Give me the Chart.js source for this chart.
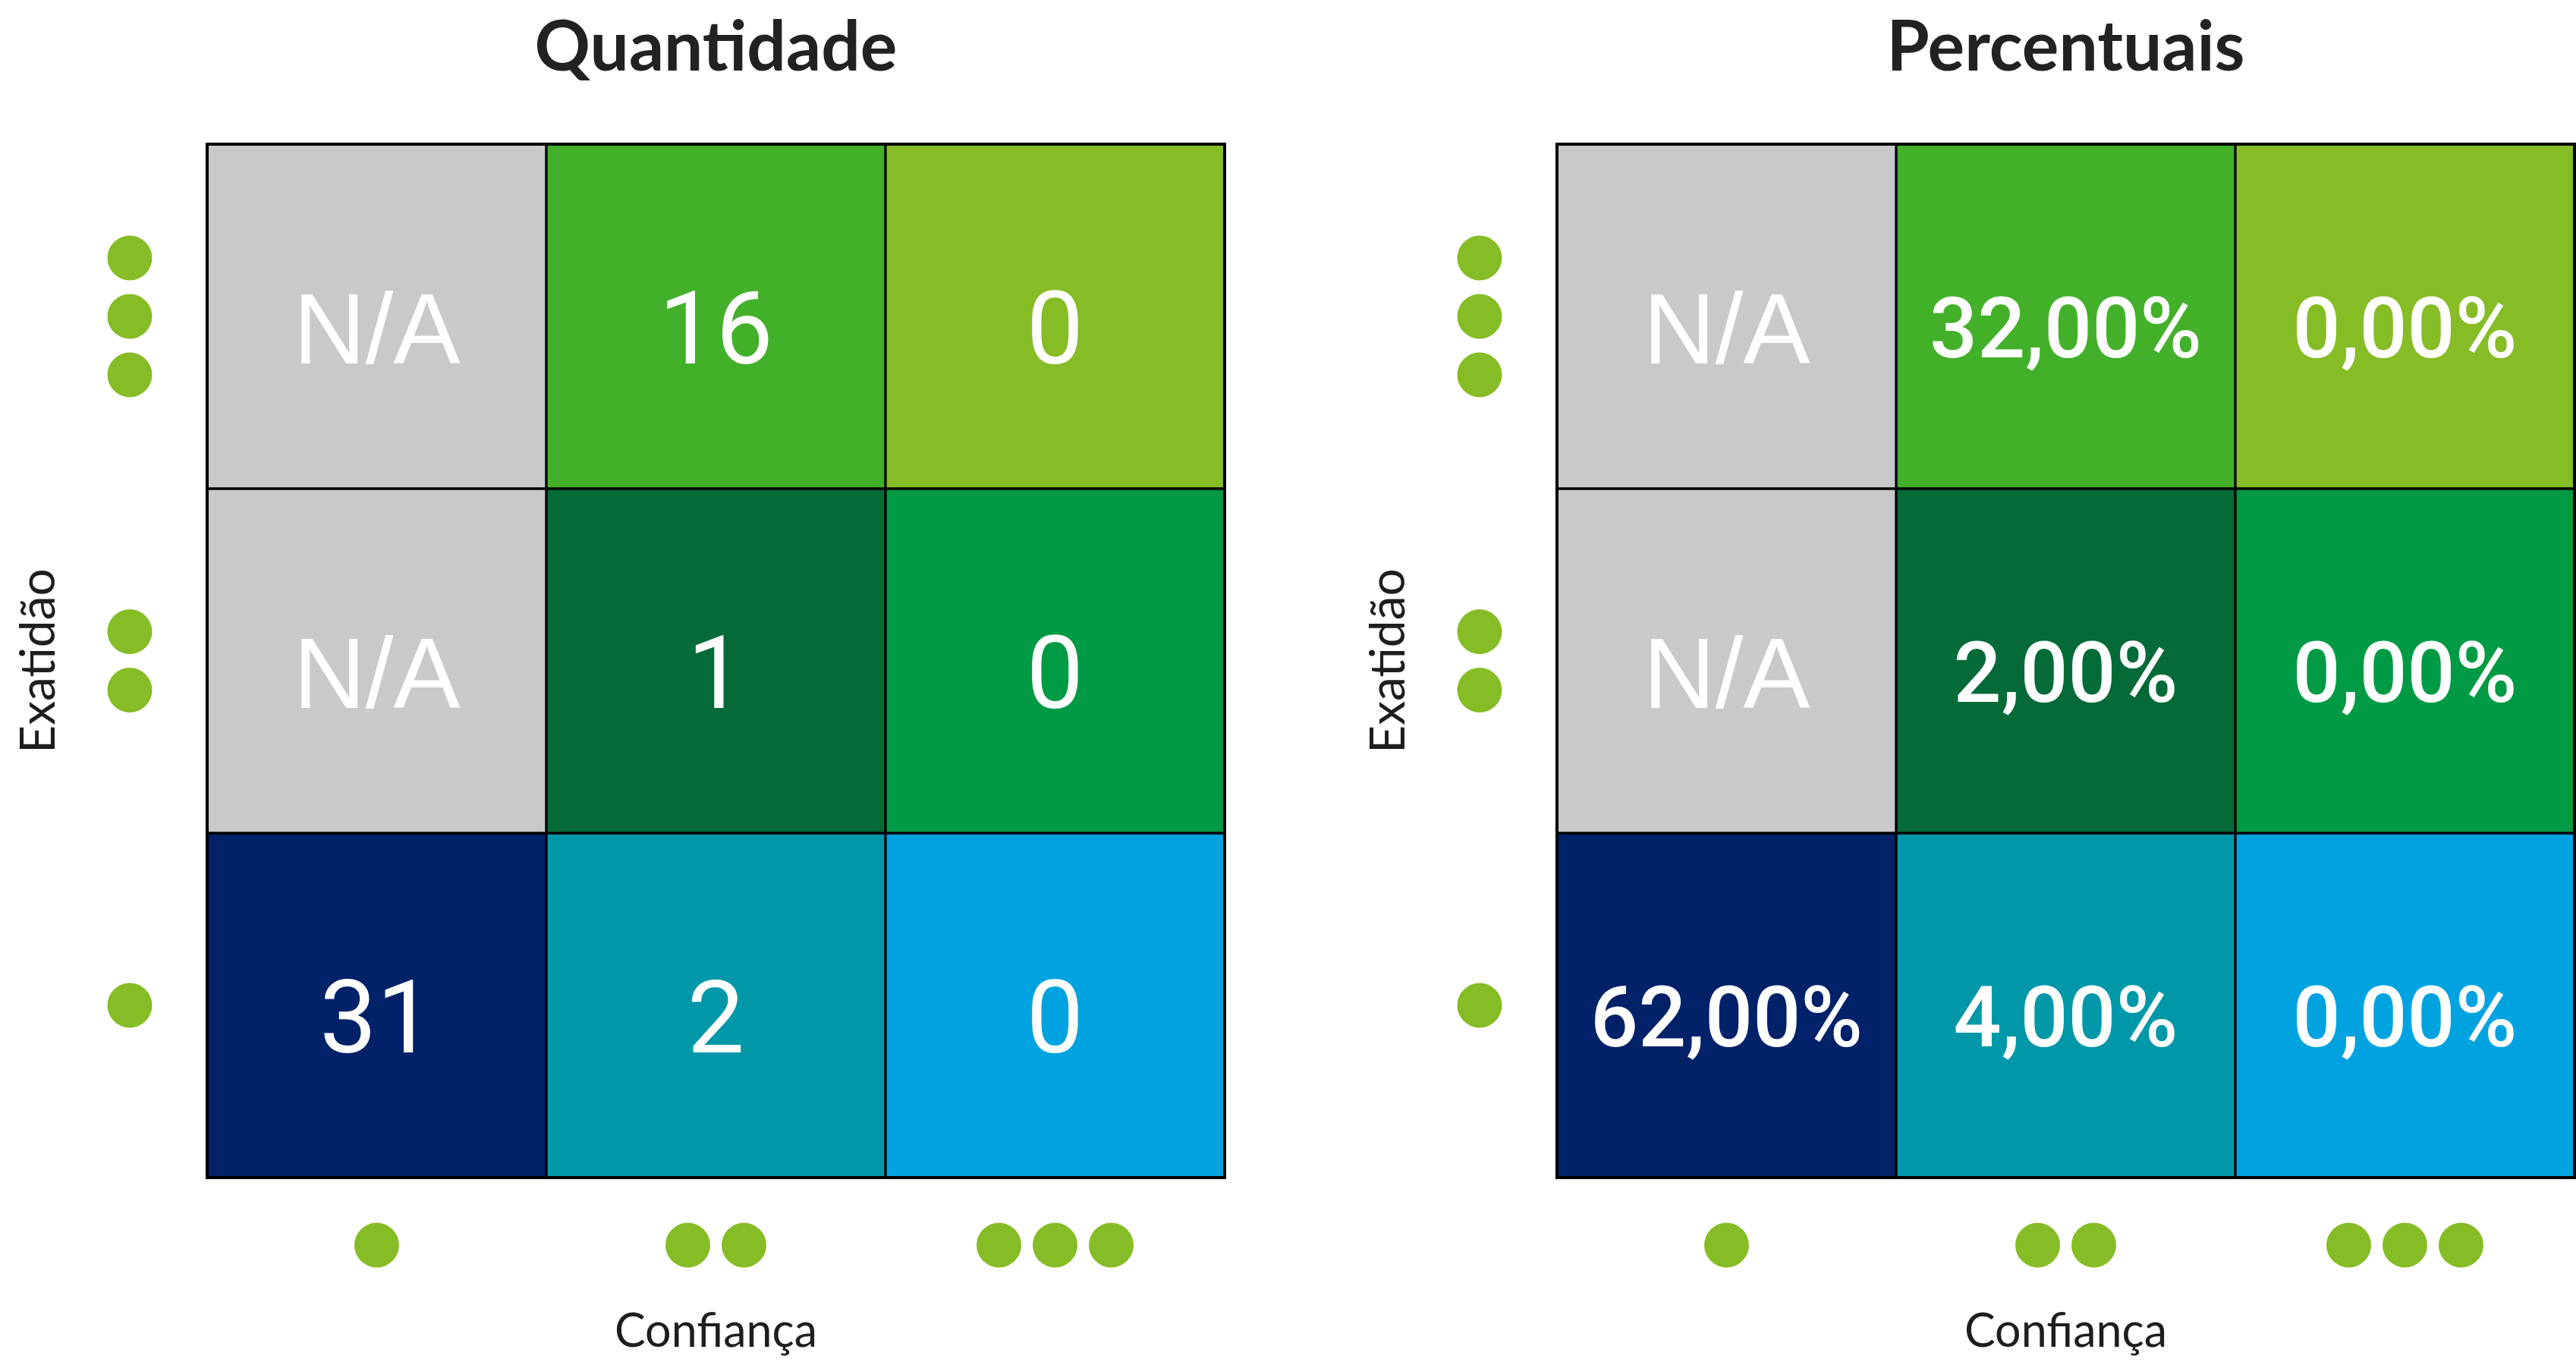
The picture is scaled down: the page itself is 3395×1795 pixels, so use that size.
<!DOCTYPE html>
<html>
<head>
<meta charset="utf-8">
<script src="https://cdn.jsdelivr.net/npm/chart.js@4.4.1/dist/chart.umd.min.js"></script>
<style>
  html, body { margin: 0; padding: 0; background: #fff; }
  body { width: 3395px; height: 1795px; position: relative; overflow: hidden; }
  canvas { position: absolute; top: 0; }
  #qtdChart { left: 0; }
  #pctChart { left: 1779px; }
</style>
</head>
<body>
<canvas id="qtdChart" width="1616" height="1795"></canvas>
<canvas id="pctChart" width="1616" height="1795"></canvas>
<script>
// ===================== Data =====================

// Confiança levels (x axis, one dot per level) and Exatidão levels (y axis, bottom to top)
const confiancaLevels = [1, 2, 3];
const exatidaoLevels = [1, 2, 3];

// Quantidade, one array per Exatidão level, across Confiança 1..3 (null = N/A)
const qtdExatidao1 = [31, 2, 0];
const qtdExatidao2 = [null, 1, 0];
const qtdExatidao3 = [null, 16, 0];

// Percentuais, same layout
const pctExatidao1 = [62, 4, 0];
const pctExatidao2 = [null, 2, 0];
const pctExatidao3 = [null, 32, 0];

// cell colours, same layout
const colorsExatidao1 = ['#012169', '#0097A9', '#00A3E0'];
const colorsExatidao2 = ['#C8C9CB', '#046A38', '#009A44'];
const colorsExatidao3 = ['#C8C9CB', '#43B02A', '#86BC25'];

const DOT_COLOR = '#86BC25';
const TEXT_DARK = '#1e1e1e';

// ---------------- Helpers ----------------
function fmtCount(v) {
  return v === null ? 'N/A' : String(v);
}

function fmtPct(v) {
  return v === null ? 'N/A' : v.toFixed(2).replace('.', ',') + '%';
}

function labelFont(text, isPct) {
  if (text === 'N/A') return { font: '400 132px "Liberation Sans", Arial, sans-serif', size: 132 };
  if (isPct) return { font: '500 111px Roboto', size: 111 };
  return { font: '400 134px Roboto', size: 134 };
}

// ---------------- Plugins ----------------
const levelDots = {
  id: 'levelDots',
  afterDraw(chart) {
    const { ctx, chartArea, scales: { x, y } } = chart;
    ctx.save();
    ctx.fillStyle = DOT_COLOR;
    confiancaLevels.forEach((lvl, i) => {
      const cx = x.getPixelForValue(i);
      for (let k = 0; k < lvl; k++) {
        ctx.beginPath();
        ctx.arc(cx + (k - (lvl - 1) / 2) * 74, chartArea.bottom + 89, 29.5, 0, Math.PI * 2);
        ctx.fill();
      }
    });
    exatidaoLevels.forEach(lvl => {
      const cy = y.getPixelForValue(lvl);
      for (let k = 0; k < lvl; k++) {
        ctx.beginPath();
        ctx.arc(chartArea.left - 102, cy + (k - (lvl - 1) / 2) * 77, 29.5, 0, Math.PI * 2);
        ctx.fill();
      }
    });
    ctx.restore();
  }
};

const gridFrame = {
  id: 'gridFrame',
  afterDatasetsDraw(chart) {
    const { ctx, chartArea } = chart;
    ctx.save();
    ctx.strokeStyle = '#000';
    ctx.lineWidth = 4;
    ctx.strokeRect(chartArea.left, chartArea.top, chartArea.width, chartArea.height);
    ctx.restore();
  }
};

const cellLabels = {
  id: 'cellLabels',
  afterDatasetsDraw(chart) {
    const { ctx } = chart;
    ctx.save();
    ctx.fillStyle = '#fff';
    ctx.textAlign = 'center';
    ctx.textBaseline = 'alphabetic';
    chart.data.datasets.forEach((ds, di) => {
      const meta = chart.getDatasetMeta(di);
      meta.data.forEach((el, j) => {
        const text = ds.cellText[j];
        const f = labelFont(text, ds.isPct);
        const cy = (el.y + el.base) / 2;
        ctx.font = f.font;
        ctx.fillText(text, el.x, cy + 14 + 0.36 * f.size);
      });
    });
    ctx.restore();
  }
};

// ---------------- Chart builder ----------------
function buildHeatmap(canvasId, title, rows, fmt, isPct) {
  const colorRows = [colorsExatidao1, colorsExatidao2, colorsExatidao3];
  const datasets = exatidaoLevels.map((lvl, r) => ({
    label: 'Exatidão ' + lvl,
    data: confiancaLevels.map(() => [lvl - 0.5, lvl + 0.5]),
    cellText: rows[r].map(fmt),
    isPct,
    backgroundColor: colorRows[r],
    borderColor: '#000',
    borderWidth: 2,
    borderSkipped: false,
    categoryPercentage: 1,
    barPercentage: 1
  }));

  return new Chart(document.getElementById(canvasId), {
    type: 'bar',
    data: {
      labels: confiancaLevels.map(String),
      datasets
    },
    options: {
      responsive: false,
      animation: false,
      layout: { padding: { left: 0, right: 2, top: 0, bottom: 0 } },
      plugins: {
        legend: { display: false },
        tooltip: { enabled: false },
        title: {
          display: true,
          text: title,
          fullSize: false,
          color: '#222',
          font: { family: 'Lato', weight: 'bold', size: 91 },
          padding: { top: 9, bottom: 71.8 }
        }
      },
      scales: {
        x: {
          stacked: true,
          grid: { display: false },
          border: { display: false },
          ticks: { display: false },
          title: {
            display: true,
            text: 'Confiança',
            color: TEXT_DARK,
            font: { family: 'Lato', size: 61 },
            padding: { top: 0, bottom: 3.4 }
          },
          afterFit(scale) { scale.height = 243; }
        },
        y: {
          min: 0.5,
          max: 3.5,
          grid: { display: false },
          border: { display: false },
          ticks: { display: false },
          title: {
            display: true,
            text: 'Exatidão',
            color: TEXT_DARK,
            font: { family: 'Lato', size: 64 },
            padding: { top: 12.6, bottom: 0 }
          },
          afterFit(scale) { scale.width = 273; }
        }
      }
    },
    plugins: [gridFrame, cellLabels, levelDots]
  });
}

// ---------------- Init ----------------
Promise.all([
  document.fonts.load('bold 91px Lato'),
  document.fonts.load('400 61px Lato'),
  document.fonts.load('400 132px "Liberation Sans"'),
  document.fonts.load('400 134px Roboto'),
  document.fonts.load('500 111px Roboto')
]).catch(() => {}).then(() => {
  buildHeatmap('qtdChart', 'Quantidade', [qtdExatidao1, qtdExatidao2, qtdExatidao3], fmtCount, false);
  buildHeatmap('pctChart', 'Percentuais', [pctExatidao1, pctExatidao2, pctExatidao3], fmtPct, true);
});
</script>
</body>
</html>
